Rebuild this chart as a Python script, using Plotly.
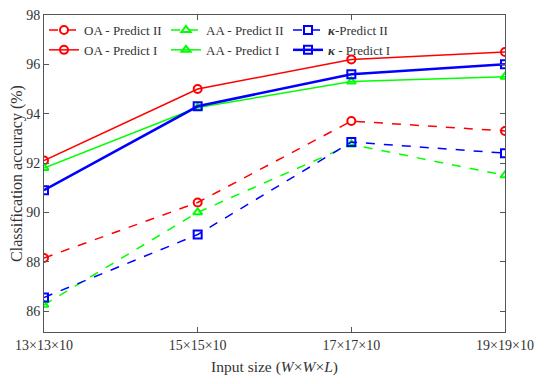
import plotly.graph_objects as go

categories = ["13×13×10", "15×15×10", "17×17×10", "19×19×10"]
oa_p2 = [88.15, 90.4, 93.7, 93.3]
aa_p2 = [86.25, 90.0, 92.75, 91.5]
k_p2 = [86.55, 89.1, 92.85, 92.4]
oa_p1 = [92.1, 95.0, 96.2, 96.5]
aa_p1 = [91.8, 94.25, 95.3, 95.5]
k_p1 = [90.9, 94.3, 95.6, 96.0]
y_ticks = [86, 88, 90, 92, 94, 96, 98]

xpos = list(range(len(categories)))
RED, GREEN, BLUE = "#ff0000", "#00ff00", "#0000ff"

series = [
    ("OA - Predict II", oa_p2, RED, "dash", "circle-open", 1.5),
    ("AA - Predict II", aa_p2, GREEN, "dash", "triangle-up-open", 1.5),
    ("<b><i>κ</i></b>-Predict II", k_p2, BLUE, "dash", "square-open", 1.5),
    ("OA - Predict I", oa_p1, RED, "solid", "circle-open", 1.5),
    ("AA - Predict I", aa_p1, GREEN, "solid", "triangle-up-open", 1.5),
    ("<b><i>κ</i></b> - Predict I", k_p1, BLUE, "solid", "square-open", 2.5),
]

fig = go.Figure()
for name, vals, col, dash, sym, w in series:
    fig.add_trace(go.Scatter(
        x=xpos, y=vals, name=name, mode="lines+markers",
        line=dict(color=col, dash=dash, width=w),
        marker=dict(symbol=sym, size=8, color=col, line=dict(color=col, width=2)),
    ))

TXT = "#333"
FAM = "Liberation Serif"
fig.update_layout(
    width=550, height=384,
    margin=dict(l=36, r=53, t=7, b=60),
    paper_bgcolor="white", plot_bgcolor="white",
    font=dict(family=FAM, size=13, color=TXT),
    showlegend=True,
    legend=dict(orientation="h", x=0.0, y=1.0, xanchor="left", yanchor="top",
                bgcolor="rgba(0,0,0,0)", entrywidth=77,
                font=dict(family=FAM, size=13, color=TXT),
                tracegroupgap=0, itemwidth=30),
    xaxis=dict(range=[0, 3], tickvals=xpos, ticktext=categories, showgrid=False,
               zeroline=False, showline=True, mirror="ticks", linecolor="#555", linewidth=1,
               ticks="inside", ticklen=5, tickcolor="#555", automargin=False,
               ticklabeloverflow="allow",
               tickfont=dict(family=FAM, size=14, color=TXT),
               title=dict(text="Input size (<i>W</i>×<i>W</i>×<i>L</i>)", standoff=9,
                          font=dict(family=FAM, size=15.5, color=TXT))),
    yaxis=dict(range=[85.15, 98], tickvals=y_ticks, showgrid=False,
               zeroline=False, showline=True, mirror="ticks", linecolor="#555", linewidth=1,
               ticks="inside", ticklen=5, tickcolor="#555", automargin=False,
               ticklabeloverflow="allow",
               tickfont=dict(family=FAM, size=14, color=TXT),
               title=dict(text="Classification accuracy (%)", standoff=2,
                          font=dict(family=FAM, size=16, color=TXT))),
)
fig.write_html("out.html")
